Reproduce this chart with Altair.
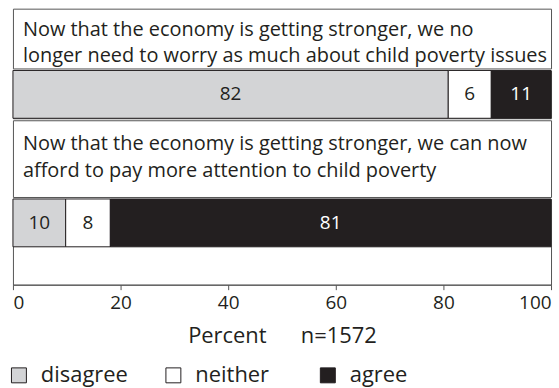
import altair as alt
import pandas as pd

# ---- data ----
q1_lines = [
    "Now that the economy is getting stronger, we no",
    "longer need to worry as much about child poverty issues",
]
q2_lines = [
    "Now that the economy is getting stronger, we can now",
    "afford to pay more attention to child poverty",
]
categories = ["disagree", "neither", "agree"]
# percentages printed on the bars
q1_labels = [82, 6, 11]
q2_labels = [10, 8, 81]
# segment widths as drawn in the reference (percent of axis)
q1_widths = [80.9, 8.0, 11.1]
q2_widths = [9.8, 8.3, 81.9]
x_ticks = [0, 20, 40, 60, 80, 100]
axis_title = "\u00a0\u00a0Percent" + "\u00a0" * 6 + "n=1572"

FONT = "Open Sans"
INK = "#231f20"
GRAY = "#d3d4d6"
FRAME = "#555555"
W = 540

x_scale = alt.Scale(domain=[0, 100], nice=False, zero=True)


def text_panel(lines, h, y_scale, key, dy):
    df = pd.DataFrame({key: list(range(len(lines))), "txt": lines})
    return alt.Chart(df).mark_text(
        align="left", baseline="middle", dx=10, dy=dy,
        fontSize=20, font=FONT, color=INK,
    ).encode(
        x=alt.XDatum(0, scale=x_scale, axis=None),
        y=alt.Y(f"{key}:O", axis=None, scale=y_scale),
        text="txt:N",
    ).properties(width=W, height=h)


def bar_panel(widths, labels, h, with_axis, y_scale, key):
    df = pd.DataFrame({
        key: ["q"] * 3,
        "category": categories,
        "ord": [0, 1, 2],
        "width": widths,
        "label": [str(v) for v in labels],
    })
    if with_axis:
        xaxis = alt.Axis(values=x_ticks, title=axis_title, grid=False, labelFlush=True)
    else:
        xaxis = None
    base = alt.Chart(df)
    bars = base.mark_bar(stroke=INK, strokeWidth=1).encode(
        x=alt.X("width:Q", stack="zero", scale=x_scale, axis=xaxis),
        y=alt.Y(f"{key}:N", axis=None, scale=y_scale),
        color=alt.Color(
            "category:N",
            scale=alt.Scale(domain=categories, range=[GRAY, "#ffffff", INK]),
            legend=alt.Legend(title=None),
        ),
        order=alt.Order("ord:Q"),
    )
    txt = base.transform_stack(
        stack="width", groupby=[key], sort=[alt.SortField("ord")], as_=["x0", "x1"]
    ).transform_calculate(mid="(datum.x0 + datum.x1) / 2").mark_text(
        fontSize=19, font=FONT, baseline="middle", align="center"
    ).encode(
        x=alt.X("mid:Q", scale=x_scale, axis=xaxis),
        y=alt.Y(f"{key}:N", axis=None, scale=y_scale),
        text="label:N",
        color=alt.when(alt.datum.category == "agree")
        .then(alt.value("#ffffff"))
        .otherwise(alt.value(INK)),
    )
    return alt.layer(bars, txt).properties(width=W, height=h)


STEP = 26.7
full_band = alt.Scale(type="band", paddingInner=0, paddingOuter=0)
# bottom panel: 48px band at top, the rest empty
bottom_band = alt.Scale(type="band", paddingInner=0, paddingOuter=(86 / 48 - 1) / 2, align=0)
# text line bands (two lines, ~27px apart)
t1_band = alt.Scale(type="band", paddingInner=0, paddingOuter=(60 / STEP - 2) / 2, align=0.75)
t2_band = alt.Scale(type="band", paddingInner=0, paddingOuter=(77 / STEP - 2) / 2, align=0.51)

chart = alt.vconcat(
    text_panel(q1_lines, 60, t1_band, "l1", 3),
    bar_panel(q1_widths, q1_labels, 48, False, full_band, "b1"),
    text_panel(q2_lines, 77, t2_band, "l2", -1.5),
    bar_panel(q2_widths, q2_labels, 86, True, bottom_band, "b2"),
    spacing=0,
).resolve_scale(
    y="independent"
).properties(
    padding={"left": 12, "top": 7, "right": 7, "bottom": 0},
).configure_view(
    stroke=FRAME, strokeWidth=1,
).configure_axis(
    labelFont=FONT, labelFontSize=19, labelColor=INK, labelPadding=4,
    tickColor=FRAME, tickSize=5, domainColor=FRAME,
    titleFont=FONT, titleFontSize=22, titleFontWeight="normal", titleColor=INK,
    titlePadding=13,
).configure_legend(
    orient="bottom", direction="horizontal", columns=3, gridAlign="all",
    columnPadding=35, symbolType="square", symbolSize=225, symbolOffset=-5,
    symbolStrokeColor=INK, symbolStrokeWidth=1, labelFont=FONT,
    labelFontSize=22, labelColor=INK, labelOffset=11, offset=17, padding=0,
)

chart.save("out.html", embed_options={"renderer": "svg", "actions": False})
